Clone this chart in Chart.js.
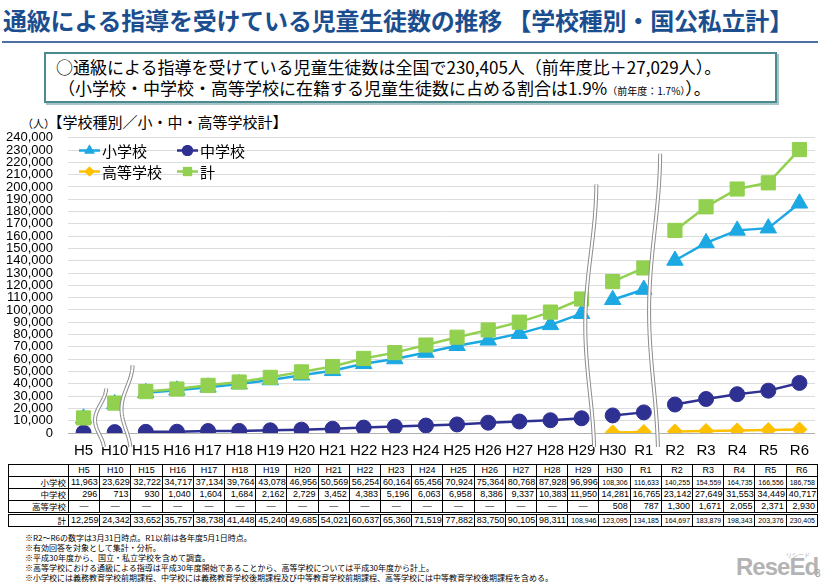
<!DOCTYPE html>
<html><head><meta charset="utf-8">
<script src="https://cdn.jsdelivr.net/npm/chart.js@4"></script>
<style>
html,body{margin:0;padding:0}
body{width:826px;height:584px;position:relative;background:#fff;overflow:hidden;font-family:"Noto Sans CJK JP","Noto Sans",sans-serif;color:#000}
#title{position:absolute;left:3px;top:4px;font-size:24px;font-weight:700;color:#1b4e8f;white-space:nowrap;line-height:32px;letter-spacing:-0.2px}
#rule{position:absolute;left:2px;top:41px;width:816px;height:2px;background:#4d6fa6}
#box{position:absolute;left:44px;top:52px;width:729px;height:47px;border:2.5px solid #4b8b90;box-shadow:2px 2px 0 #a9c4c6;background:#fff}
#box div{position:absolute;left:10px;font-size:17px;line-height:20px;white-space:nowrap}
#box .l1{top:3px}
#box .l2{top:24px;left:12px}
#box .s{font-size:10px}
#unit{position:absolute;left:22px;top:112px;font-size:15px;line-height:20px;white-space:nowrap}
#unit .s{font-size:11px}
#cw{position:absolute;left:0;top:115px;width:826px;height:349px}
#tbl{position:absolute;left:8px;top:464px;width:810px;border-collapse:collapse;table-layout:fixed;font-family:"Liberation Sans Narrow","Liberation Sans",sans-serif;font-size:9px;border:1.5px solid #000}
#tbl td{border:1px solid #000;height:11px;line-height:11px;padding:0 2px;white-space:nowrap;overflow:hidden;text-align:right}
#tbl tr.hd td{text-align:center}
#tbl td.rh{font-family:"Noto Sans CJK JP";font-size:8.5px}
#tbl td.dash{text-align:center}
#tbl td.big{font-size:7px}
#tbl tr.tot td{border-top:3px double #000}
#notes{position:absolute;left:25px;top:533px;font-size:8px;line-height:10px;white-space:nowrap}
#logo{position:absolute;left:736px;top:553px;font-family:"Liberation Sans",sans-serif;font-weight:700;font-size:24px;color:#b3b3b3;letter-spacing:-1px;line-height:28px}
#logo2{position:absolute;left:786px;top:550px;font-size:6px;color:#b3b3b3}
#pg{position:absolute;left:815px;top:568px;font-family:"Liberation Sans";font-size:10px;color:#999}
</style></head>
<body>
<div id="title">通級による指導を受けている児童生徒数の推移 【学校種別・国公私立計】</div>
<div id="rule"></div>
<div id="box">
<div class="l1">○通級による指導を受けている児童生徒数は全国で230,405人（前年度比＋27,029人）。</div>
<div class="l2">（小学校・中学校・高等学校に在籍する児童生徒数に占める割合は1.9%<span class="s">（前年度：1.7%）</span>）。</div>
</div>
<div id="unit"><span class="s">（人）</span>【学校種別／小・中・高等学校計】</div>
<div id="cw"><canvas id="c"></canvas></div>
<table id="tbl"></table>
<div id="notes">
※R2～R6の数字は3月31日時点。R1以前は各年度5月1日時点。<br>
※有効回答を対象として集計・分析。<br>
※平成30年度から、国立・私立学校を含めて調査。<br>
※高等学校における通級による指導は平成30年度開始であることから、高等学校については平成30年度から計上。<br>
※小学校には義務教育学校前期課程、中学校には義務教育学校後期課程及び中等教育学校前期課程、高等学校には中等教育学校後期課程を含める。
</div>
<div id="logo2">リシード</div>
<div id="logo">ReseEd</div>
<div id="pg">3</div>
<script>
// ---- data ----
const categories = ['H5','H10','H15','H16','H17','H18','H19','H20','H21','H22','H23','H24','H25','H26','H27','H28','H29','H30','R1','R2','R3','R4','R5','R6'];
const elementary = [11963,23629,32722,34717,37134,39764,43078,46956,50569,56254,60164,65456,70924,75364,80768,87928,96996,108306,116633,140255,154559,164735,166556,186758];
const juniorHigh = [296,713,930,1040,1604,1684,2162,2729,3452,4383,5196,6063,6958,8386,9337,10383,11950,14281,16765,23142,27649,31553,34449,40717];
const highSchool = [null,null,null,null,null,null,null,null,null,null,null,null,null,null,null,null,null,508,787,1300,1671,2055,2371,2930];
const total = [12259,24342,33652,35757,38738,41448,45240,49685,54021,60637,65360,71519,77882,83750,90105,98311,108946,123095,134185,164697,183879,198343,203376,230405];
const seriesNames = ['小学校','中学校','高等学校','計'];
const yMax = 240000, yStep = 10000;
// series breaks: no line drawn after these category indices
const breakAfter = [0,1,16,18];
// break marks: position (category index), top value
const breakMarks = [{at:0.5, top:36000},{at:1.35, top:55000},{at:16.25, top:202000},{at:18.3, top:227000}];

// ---- table ----
const fmt = v => v.toLocaleString('en-US');
(function(){
  const t = document.getElementById('tbl');
  let h = '<colgroup><col style="width:60px">' + categories.map(()=>'<col>').join('') + '</colgroup>';
  h += '<tr class="hd"><td></td>' + categories.map(c=>'<td>'+c+'</td>').join('') + '</tr>';
  const rows = [[seriesNames[0],elementary,''],[seriesNames[1],juniorHigh,''],[seriesNames[2],highSchool,''],[seriesNames[3],total,'tot']];
  rows.forEach(r=>{
    h += '<tr class="'+r[2]+'"><td class="rh">'+r[0]+'</td>' + r[1].map(v=> v==null ? '<td class="dash">—</td>' : '<td class="'+(v>=100000?'big':'')+'">'+fmt(v)+'</td>').join('') + '</tr>';
  });
  t.innerHTML = h;
})();

// ---- chart ----
const colors = ['#1ba8e3','#2e3192','#ffc000','#92d050'];
const styles = ['triangle','circle','rectRot','rect'];
const radii = [9.5,7.5,7.5,10];
const orders = [3,1,2,0];
const dataSets = [elementary, juniorHigh, highSchool, total];

const datasets = dataSets.map((d,i)=>({
  label: seriesNames[i], data: d, order: orders[i],
  borderColor: colors[i], backgroundColor: colors[i],
  pointStyle: styles[i], pointRadius: radii[i], pointHoverRadius: radii[i],
  pointBorderWidth: 1, pointBorderColor: colors[i], pointBackgroundColor: colors[i],
  borderWidth: 2.5, spanGaps: false, tension: 0,
  segment: { borderColor: ctx => breakAfter.includes(ctx.p0DataIndex) ? 'rgba(0,0,0,0)' : colors[i] }
}));

const breakPlugin = {
  id: 'breaks',
  afterDatasetsDraw(chart){
    const {ctx, scales:{x,y}} = chart;
    ctx.save();
    breakMarks.forEach(b=>{
      const x0 = x.getPixelForValue(b.at);
      const yt = y.getPixelForValue(b.top);
      const yb = y.getPixelForValue(0) + 14;
      const hgt = yb - yt;
      const path = () => {
        ctx.beginPath();
        for (let k=0;k<=60;k++){
          const t = k/60;
          const xx = x0 + 5*Math.cos(2*Math.PI*t*0.95);
          const yy = yt + t*hgt;
          if(k===0) ctx.moveTo(xx+2,yy); else ctx.lineTo(xx+2*(1-t),yy);
        }
      };
      path(); ctx.strokeStyle='#8c8c8c'; ctx.lineWidth=4; ctx.stroke();
      path(); ctx.strokeStyle='#ffffff'; ctx.lineWidth=2; ctx.stroke();
    });
    ctx.restore();
  }
};

const legendPlugin = {
  id: 'customLegend',
  afterDraw(chart){
    const ctx = chart.ctx;
    const pos = [[79,35.5],[177,35.5],[79,56.5],[177,56.5]];
    const lr = [6,5.5,5,6.5];
    ctx.save();
    ctx.font = '15px "Noto Sans CJK JP"';
    ctx.textBaseline = 'middle';
    seriesNames.forEach((n,i)=>{
      const [lx,ly] = pos[i];
      ctx.strokeStyle = colors[i]; ctx.lineWidth = 2.5;
      ctx.beginPath(); ctx.moveTo(lx,ly); ctx.lineTo(lx+21,ly); ctx.stroke();
      ctx.fillStyle = colors[i];
      Chart.helpers.drawPoint(ctx,{pointStyle:styles[i],radius:lr[i],rotation:0,borderWidth:0},lx+10.5,ly);
      ctx.fill();
      ctx.fillStyle = '#000';
      ctx.fillText(n, lx+23, ly+1);
    });
    ctx.restore();
  }
};

new Chart(document.getElementById('c'), {
  type: 'line',
  data: { labels: categories, datasets },
  options: {
    responsive: true, maintainAspectRatio: false, animation: false,
    layout: { padding: { top: 0, right: 8, left: 0, bottom: 0 } },
    plugins: { legend: { display: false }, tooltip: { enabled: false } },
    scales: {
      x: {
        offset: true,
        grid: { display: false, drawTicks: false },
        border: { display: false },
        ticks: { color: '#000', font: { family: 'Liberation Sans', size: 15 }, padding: 9, maxRotation: 0, autoSkip: false },
        afterFit(s){ s.height = 31; }
      },
      y: {
        min: 0, max: yMax,
        grid: { color: ctx => ctx.tick.value === 0 ? '#b0b0b0' : '#dcdcdc', lineWidth: 1, drawTicks: false },
        border: { display: false },
        ticks: { stepSize: yStep, autoSkip: false, color: '#000', padding: 15,
          font: { family: 'Liberation Sans', size: 13 },
          callback: v => fmt(v) },
        afterFit(s){ s.width = 68; }
      }
    }
  },
  plugins: [breakPlugin, legendPlugin]
});
</script>
</body></html>
